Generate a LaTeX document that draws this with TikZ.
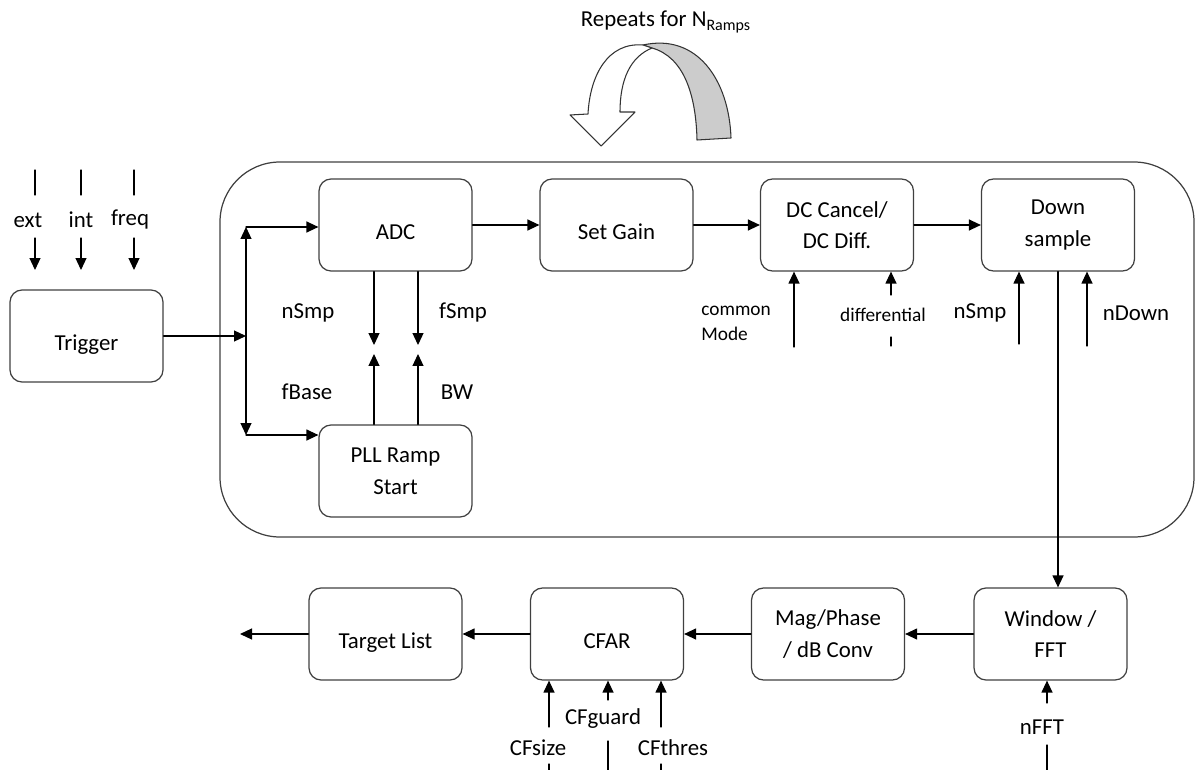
\documentclass[tikz,border=0pt]{standalone}
\usepackage{fontspec}
\setmainfont{Carlito}
\usetikzlibrary{arrows.meta}
\usetikzlibrary{positioning}
\usetikzlibrary{calc}

\begin{document}
\begin{tikzpicture}[line cap=round,line join=round,>={Triangle[length=2.4mm,width=2.2mm]},x=0.02cm,y=-0.02cm,
  blk/.style={draw=black!75,line width=0.7pt,rounded corners=2.4mm,minimum width=3.06cm,minimum height=1.84cm,align=center,font=\fontsize{13}{18}\selectfont},
  blkone/.style={blk,text height=17pt,text depth=1pt},
  lbl/.style={font=\fontsize{13}{16}\selectfont,inner sep=0pt},
  small/.style={font=\fontsize{11}{14.2}\selectfont,inner sep=0pt,align=left},
  flow/.style={->,line width=0.7pt}]
%  \draw[step=50,gray,very thin] (0,0) grid (1196,770);

\useasboundingbox (0,0) rectangle (1196,770);

% repeat loop
\draw[black!75,line width=0.7pt,rounded corners=1.2cm] (220,162) rectangle (1194,537);
\node[lbl] (rep) at (666,22) {Repeats for N\textsubscript{Ramps}};
\filldraw[fill=black!20,draw=black!80,line width=0.6pt] (643,45) .. controls (697,33) and (729,80) .. (731,138) -- (697,140) .. controls (696,95) and (684,57) .. (652,48) -- cycle;
\filldraw[fill=white,draw=black!80,line width=0.6pt] (643,45) .. controls (608,42) and (590,75) .. (588,114) -- (570,115) -- (601,146) -- (635,112) -- (620,112) .. controls (620,80) and (630,57) .. (652,48) -- cycle;

% blocks
\node[blkone] (trig) at (86.5,336) {Trigger};
\node[blkone] (adc) at (395.5,225) {ADC};
\node[blkone] (gain) at (616.5,225) {Set Gain};
\node[blk] (dc) at (837,225) {DC Cancel/\\DC Diff.};
\node[blk] (down) at (1058,225) {Down\\sample};
\node[blk] (pll) at (395.5,471) {PLL Ramp\\Start};

\node[blk] (win) at (1050.5,634) {Window /\\FFT};
\node[blk] (mag) at (828,634) {Mag/Phase\\/ dB Conv};
\node[blkone] (cfar) at (607,634) {CFAR};
\node[blkone] (tgt) at (385.5,634) {Target List};

% trigger inputs
\foreach \nm/\x/\lx in {ext/35/28,int/81/81,freq/134/130}{
  \coordinate (\nm1) at (\x,170);
  \coordinate (\nm2) at (\x,195);
  \coordinate (\nm3) at (\x,238);
  \coordinate (\nm4) at (\x,270);
  \node[lbl] (\nm) at (\lx,220) {\nm};
  \draw[line width=0.7pt] (\nm1) -- (\nm2);
  \draw[flow] (\nm3) -- (\nm4);
}

% trigger bus
\coordinate (bustop) at (246,227);
\coordinate (busbot) at (246,435);
\draw[flow] (trig.east) -- (trig.east -| bustop);
\draw[<->,line width=0.7pt] (bustop) -- (busbot);
\draw[flow] (bustop) -- (bustop -| adc.west);
\draw[flow] (busbot) -- (busbot -| pll.west);

% adc <-> pll
\coordinate (nsdn) at (374,345);
\coordinate (fsdn) at (418,345);
\coordinate (fbup) at (374,354);
\coordinate (bwup) at (418,354);
\draw[flow] (adc.south -| nsdn) -- (nsdn);
\draw[flow] (adc.south -| fsdn) -- (fsdn);
\draw[flow] (pll.north -| fbup) -- (fbup);
\draw[flow] (pll.north -| bwup) -- (bwup);
\node[lbl] (nsmp1) at (308,313) {nSmp};
\node[lbl] (fsmp) at (463,313) {fSmp};
\node[lbl] (fbase) at (307,392) {fBase};
\node[lbl] (bw) at (457,392) {BW};

% ramp chain
\draw[flow] (adc.east) -- (gain.west);
\draw[flow] (gain.east) -- (dc.west);
\draw[flow] (dc.east) -- (down.west);

% dc cancel inputs
\coordinate (cm0) at (794,347);
\draw[flow] (cm0) -- (cm0 |- dc.south);
\node[small,anchor=west] (cmode) at (701,323) {common\\Mode};
\coordinate (df0) at (891,295);
\draw[flow] (df0) -- (df0 |- dc.south);
\node[small] (diff) at (883,315) {differential};
\coordinate (df1) at (891,337);
\coordinate (df2) at (891,346);
\draw[line width=0.7pt] (df1) -- (df2);

% down sample inputs
\coordinate (ns2) at (1019,344);
\draw[flow] (ns2) -- (ns2 |- down.south);
\node[lbl] (nsmp2) at (980,313) {nSmp};
\coordinate (nd0) at (1087,346);
\draw[flow] (nd0) -- (nd0 |- down.south);
\node[lbl] (ndown) at (1136,313) {nDown};
\draw[flow] (down.south) -- (down.south |- win.north);

% processing chain
\coordinate (out) at (240,634);
\draw[flow] (win.west) -- (mag.east);
\draw[flow] (mag.west) -- (cfar.east);
\draw[flow] (cfar.west) -- (tgt.east);
\draw[flow] (tgt.west) -- (out);

% fft input
\coordinate (fft0) at (1047,703);
\coordinate (fft1) at (1047,745);
\coordinate (fft2) at (1047,770);
\draw[flow] (fft0) -- (fft0 |- win.south);
\node[lbl] (nfft) at (1042,727) {nFFT};
\draw[line width=0.7pt] (fft1) -- (fft2);

% cfar inputs
\foreach \nm/\x/\t/\lx/\ly/\b in {CFsize/549/727/538/748/764,CFguard/608/700/603/719/741,CFthres/661/727/673/748/764}{
  \coordinate (\nm0) at (\x,\t);
  \coordinate (\nm1) at (\x,\b);
  \coordinate (\nm2) at (\x,770);
  \draw[flow] (\nm0) -- (\nm0 |- cfar.south);
  \node[lbl] (\nm) at (\lx,\ly) {\nm};
  \draw[line width=0.7pt] (\nm1) -- (\nm2);
}

\end{tikzpicture}
\end{document}
